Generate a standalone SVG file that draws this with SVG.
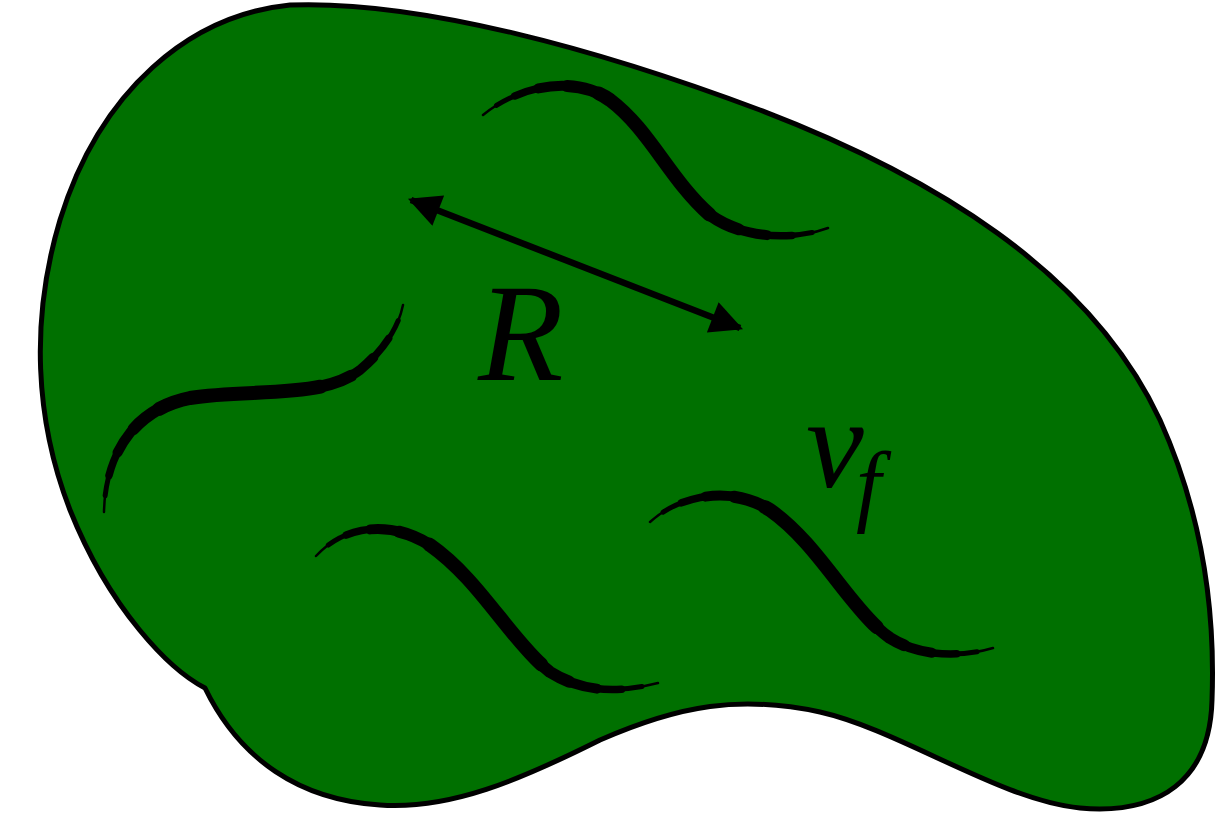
<svg xmlns="http://www.w3.org/2000/svg" width="1220" height="827" viewBox="0 0 1220 827">
<defs>
<style>
.blob{fill:#007000;stroke:#000;stroke-width:5;stroke-linejoin:round}
.sq use{fill:none;stroke:#000;stroke-linecap:round}
.w1{stroke-width:2.5}
.w2{stroke-width:5;stroke-dasharray:92 200;stroke-dashoffset:-4}
.w3{stroke-width:7.5;stroke-dasharray:82 200;stroke-dashoffset:-9}
.w4{stroke-width:10;stroke-dasharray:70 200;stroke-dashoffset:-15}
.w5{stroke-width:12;stroke-dasharray:56 200;stroke-dashoffset:-22}
.w6{stroke-width:14;stroke-dasharray:40 200;stroke-dashoffset:-30}
.lbl{font-family:"Liberation Serif",serif;font-style:italic;fill:#000}
</style>
<path id="p1" pathLength="100" d="M483,115 C520,85 575,75 610,100 C650,130 670,180 710,215 C745,240 795,240 828,228"/>
<path id="p2" pathLength="100" d="M104,512 C105,460 130,410 190,398 C250,388 320,400 360,370 C390,345 400,320 403,305"/>
<path id="p3" pathLength="100" d="M316,556 C345,525 390,520 430,545 C480,580 510,640 550,672 C590,697 630,690 658,683"/>
<path id="p4" pathLength="100" d="M650,522 C680,495 730,485 770,510 C820,545 850,610 890,638 C925,660 970,655 993,648"/>
<marker id="ah" viewBox="0 0 10 10" refX="9" refY="5" markerWidth="5.5" markerHeight="5" orient="auto-start-reverse" markerUnits="strokeWidth">
<path d="M0,0 L10,5 L0,10 z" fill="#000"/>
</marker>
</defs>
<rect width="1220" height="827" fill="#fff"/>
<g id="blob">
<path class="blob" d="M290,5 C420,0 600,50 760,110 C930,175 1090,270 1160,420 C1205,520 1215,620 1212,700 C1210,780 1160,815 1080,808 C1000,800 900,730 820,712 C740,695 680,705 600,740 C520,780 450,810 380,805 C300,800 240,760 205,688 C170,670 110,610 70,510 C35,420 30,320 60,220 C100,90 190,15 290,5 Z"/>
</g>
<g id="squiggles" class="sq">
<g id="s1"><use href="#p1" class="w1"/><use href="#p1" class="w2"/><use href="#p1" class="w3"/><use href="#p1" class="w4"/><use href="#p1" class="w5"/><use href="#p1" class="w6"/></g>
<g id="s2"><use href="#p2" class="w1"/><use href="#p2" class="w2"/><use href="#p2" class="w3"/><use href="#p2" class="w4"/><use href="#p2" class="w5"/><use href="#p2" class="w6"/></g>
<g id="s3"><use href="#p3" class="w1"/><use href="#p3" class="w2"/><use href="#p3" class="w3"/><use href="#p3" class="w4"/><use href="#p3" class="w5"/><use href="#p3" class="w6"/></g>
<g id="s4"><use href="#p4" class="w1"/><use href="#p4" class="w2"/><use href="#p4" class="w3"/><use href="#p4" class="w4"/><use href="#p4" class="w5"/><use href="#p4" class="w6"/></g>
</g>
<g id="arrow">
<line x1="411" y1="200" x2="740" y2="328" stroke="#000" stroke-width="6.5" marker-start="url(#ah)" marker-end="url(#ah)"/>
</g>
<g id="labels">
<text class="lbl" x="806" y="487" font-size="130">v<tspan x="856" y="515" font-size="90">f</tspan></text>
<text class="lbl" x="478" y="380" font-size="140">R</text>
</g>
</svg>
